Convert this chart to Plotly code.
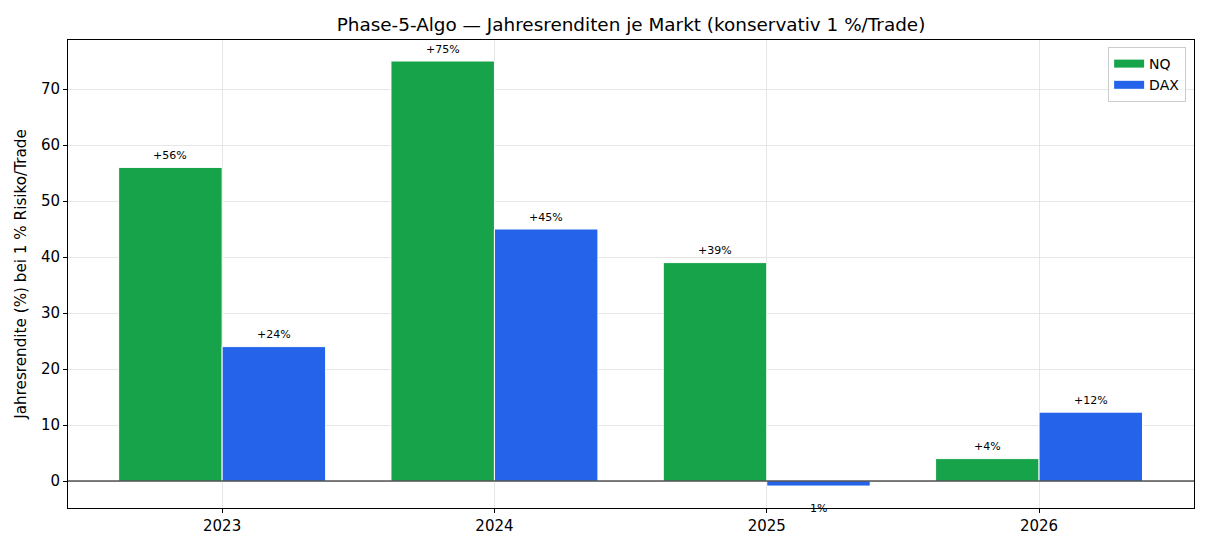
import plotly.graph_objects as go

years = [2023, 2024, 2025, 2026]
nq_values = [56, 75, 39, 4]
dax_values = [24, 45, -0.9, 12.3]
nq_labels = ["+56%", "+75%", "+39%", "+4%"]
dax_labels = ["+24%", "+45%", "1%", "+12%"]

GREEN = "#17a34a"
BLUE = "#2563eb"
W = 0.38
FONT = "DejaVu Sans"

fig = go.Figure()
fig.add_trace(go.Bar(x=years, y=nq_values, name="NQ", width=W, offset=-W, showlegend=False,
                     marker=dict(color=GREEN, line=dict(color="white", width=1))))
fig.add_trace(go.Bar(x=years, y=dax_values, name="DAX", width=W, offset=0, showlegend=False,
                     marker=dict(color=BLUE, line=dict(color="white", width=1))))
# legend proxies (rectangular patches)
fig.add_trace(go.Scatter(x=[None], y=[None], mode="lines", name="NQ",
                         line=dict(color=GREEN, width=8)))
fig.add_trace(go.Scatter(x=[None], y=[None], mode="lines", name="DAX",
                         line=dict(color=BLUE, width=8)))

ann = []
for series, labels, sign in ((nq_values, nq_labels, -1), (dax_values, dax_labels, 1)):
    for yr, v, lab in zip(years, series, labels):
        xc = yr + sign * W / 2
        if v >= 0:
            ann.append(dict(x=xc, y=v + 0.8, text=lab, showarrow=False, xref="x", yref="y",
                            yanchor="bottom", font=dict(size=11, color="black", family=FONT), borderpad=0))
        else:
            ann.append(dict(x=xc, y=v - 2.6, text=lab, showarrow=False, xref="x", yref="y",
                            yanchor="top", font=dict(size=11, color="black", family=FONT), borderpad=0))

fig.add_hline(y=0, line=dict(color="black", width=1.2), layer="above")

fig.update_layout(
    width=1210, height=550,
    margin=dict(l=68, r=16, t=40, b=42),
    paper_bgcolor="white", plot_bgcolor="white",
    font=dict(family=FONT, color="black", size=15),
    barmode="overlay",
    title=dict(text="Phase-5-Algo — Jahresrenditen je Markt (konservativ 1 %/Trade)",
               x=0.5, xref="paper", y=1, yref="container", yanchor="top", pad=dict(t=18),
               font=dict(size=18.4, family=FONT, color="black")),
    annotations=ann,
    legend=dict(x=0.993, y=0.985, xanchor="right", yanchor="top",
                bordercolor="#cccccc", borderwidth=1, bgcolor="rgba(255,255,255,0.8)",
                font=dict(size=14, family=FONT), itemwidth=30, tracegroupgap=2),
    xaxis=dict(range=[2022.434, 2026.569], tickvals=years, ticktext=[str(y) for y in years],
               showgrid=True, gridcolor="#e6e6e6", gridwidth=1, zeroline=False,
               ticks="outside", ticklen=4, tickcolor="black",
               showline=True, linecolor="black", linewidth=1, mirror=True,
               tickfont=dict(size=15)),
    yaxis=dict(range=[-4.82, 78.75], tickvals=[0, 10, 20, 30, 40, 50, 60, 70],
               showgrid=True, gridcolor="#e6e6e6", gridwidth=1, zeroline=False,
               ticks="outside", ticklen=4, tickcolor="black",
               showline=True, linecolor="black", linewidth=1, mirror=True,
               title=dict(text="Jahresrendite (%) bei 1 % Risiko/Trade", font=dict(size=15.2), standoff=10),
               tickfont=dict(size=15)),
)

fig.write_html("out.html")
